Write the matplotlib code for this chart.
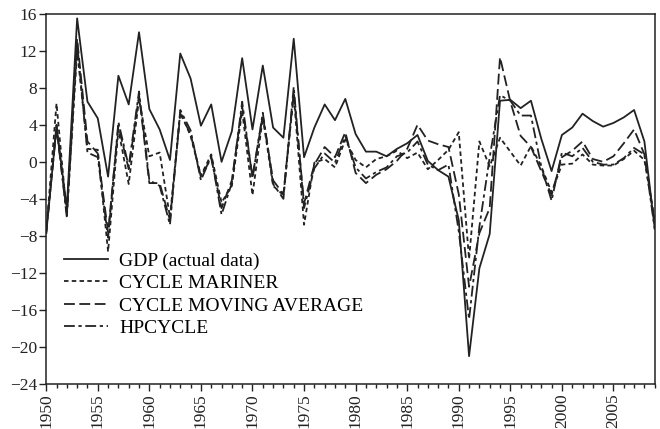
import numpy as np
import matplotlib
matplotlib.use('Agg')
from matplotlib import pyplot as plt
from matplotlib.ticker import MultipleLocator

my_dpi = 100
plt.rcParams['font.family'] = ['Liberation Serif', 'DejaVu Serif']

years = np.arange(1950, 2010)

gdp = [-7.7, 3.8, -5.0, 15.5, 6.5, 4.7, -1.6, 9.3, 6.2, 14.0,
       5.7, 3.5, 0.2, 11.7, 9.0, 3.9, 6.2, 0.0, 3.3, 11.2,
       3.5, 10.4, 3.7, 2.6, 13.3, 0.5, 3.7, 6.2, 4.5, 6.8,
       3.0, 1.1, 1.1, 0.6, 1.4, 2.0, 2.9, 0.1, -0.9, -1.6,
       -6.3, -21.0, -11.5, -7.8, 6.6, 6.7, 5.8, 6.6, 2.5, -1.0,
       2.9, 3.7, 5.2, 4.4, 3.8, 4.2, 4.8, 5.6, 2.2, -7.2]

mariner = [-7.6, 6.3, -5.8, 12.0, 1.4, 1.3, -9.7, 3.5, -2.4, 6.8,
           0.6, 1.0, -6.0, 5.4, 2.8, -1.5, 0.8, -4.4, -2.6, 5.5,
           -3.6, 4.8, -2.6, -3.6, 7.2, -6.8, -0.1, 0.3, -0.6, 2.4,
           0.2, -0.6, 0.3, 0.6, 1.2, 0.4, 1.0, -0.8, 0.2, 1.3,
           3.2, -10.5, 2.2, -0.5, 2.6, 1.1, -0.4, 1.7, -0.5, -3.3,
           -0.3, -0.2, 0.8, -0.3, -0.4, -0.4, 0.3, 1.2, 0.2, -6.3]

moving_avg = [-7.5, 3.6, -5.6, 13.3, 2.2, 0.9, -7.6, 3.9, -0.8, 7.2,
              -2.3, -2.3, -6.3, 5.2, 3.0, -1.6, 0.4, -5.0, -2.0, 6.0,
              -1.6, 5.0, -2.0, -3.5, 7.5, -4.5, -0.3, 1.6, 0.5, 3.2,
              -1.2, -2.3, -1.4, -0.8, 0.1, 1.4, 4.0, 2.3, 1.9, 1.6,
              -3.5, -13.5, -7.7, -5.0, 11.3, 6.5, 2.8, 1.6, -1.0, -3.6,
              0.5, 1.2, 2.2, 0.3, 0.0, 0.6, 2.0, 3.5, 0.8, -6.6]

hpcycle = [-7.8, 4.0, -6.0, 12.8, 1.0, 0.5, -8.2, 4.3, -0.5, 7.6,
           -2.0, -2.6, -6.8, 5.6, 3.4, -2.0, 0.6, -5.7, -2.3, 6.5,
           -1.8, 5.3, -2.4, -4.0, 8.1, -5.0, -0.7, 0.9, -0.1, 2.8,
           -0.6, -1.8, -1.1, -0.6, 0.6, 1.0, 2.2, -0.3, -0.9, -0.3,
           -7.5, -17.0, -7.0, 0.5, 7.2, 6.6, 5.0, 5.0, -0.5, -4.2,
           1.0, 0.6, 1.5, 0.0, -0.3, -0.3, 0.4, 1.5, 0.8, -7.3]

labels = ['GDP (actual data)', 'CYCLE MARINER', 'CYCLE MOVING AVERAGE', 'HPCYCLE']

fig = plt.figure(figsize=(660/my_dpi, 429/my_dpi), dpi=my_dpi)
ax = fig.add_axes([0.07, 0.105, 0.922, 0.863])

col = '#222222'
lw = 1.3
ax.plot(years, gdp, linestyle='-', color=col, linewidth=lw)
ax.plot(years, mariner, linestyle=(0, (2.5, 1.8)), color=col, linewidth=lw)
ax.plot(years, moving_avg, linestyle=(0, (6, 2.5)), color=col, linewidth=lw)
ax.plot(years, hpcycle, linestyle=(0, (6, 2, 1.8, 2)), color=col, linewidth=lw)

ax.set_xlim(1950, 2009)
ax.set_ylim(-24, 16)
ax.xaxis.set_major_locator(MultipleLocator(5))
ax.xaxis.set_minor_locator(MultipleLocator(1))
ax.yaxis.set_major_locator(MultipleLocator(4))
ax.tick_params(axis='both', which='major', direction='out', length=5, width=1, labelsize=12.5, colors=col, pad=1.5)
ax.tick_params(axis='x', which='minor', direction='out', length=3, width=1, colors=col)
for label in ax.get_xticklabels():
  label.set_rotation(90)
for s in ax.spines.values():
  s.set_color(col)
  s.set_linewidth(1.1)

ax.legend(labels, loc='upper left', bbox_to_anchor=(0.0, 0.404), frameon=False,
          fontsize=14, handlelength=2.3, labelspacing=0.25, handletextpad=0.55)

plt.savefig('out.png', dpi=my_dpi)
